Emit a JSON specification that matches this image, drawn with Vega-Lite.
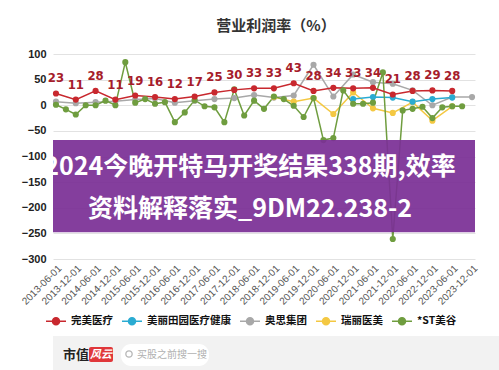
{
  "$schema": "https://vega.github.io/schema/vega-lite/v6.json",
  "padding": {"top": 19, "left": 0, "right": 0, "bottom": 0},
  "background": "white",
  "title": {"text": "营业利润率（%）", "fontSize": 15, "font": "Noto Sans CJK SC", "fontWeight": "bold", "color": "#333333", "offset": 14, "anchor": "middle"},
  "config": {"view": {"stroke": null}, "font": "Noto Sans CJK SC", "axis": {"labelOverlap": false}, "axisY": {"labelOverlap": false, "labelSeparation": 0}},
  "spacing": 8,
  "resolve": {"legend": {"color": "independent"}, "scale": {"x": "independent", "y": "independent"}},
  "datasets": {
    "main": [
      {"date": "2013-06-01", "series": "奥思集团", "value": 7},
      {"date": "2013-12-01", "series": "奥思集团", "value": 4},
      {"date": "2014-06-01", "series": "奥思集团", "value": 6},
      {"date": "2014-12-01", "series": "奥思集团", "value": 8},
      {"date": "2015-06-01", "series": "奥思集团", "value": 11},
      {"date": "2015-12-01", "series": "奥思集团", "value": 13},
      {"date": "2016-06-01", "series": "奥思集团", "value": 5},
      {"date": "2016-12-01", "series": "奥思集团", "value": 9},
      {"date": "2017-06-01", "series": "奥思集团", "value": 12},
      {"date": "2017-12-01", "series": "奥思集团", "value": 14},
      {"date": "2018-06-01", "series": "奥思集团", "value": 20},
      {"date": "2018-12-01", "series": "奥思集团", "value": 15},
      {"date": "2019-06-01", "series": "奥思集团", "value": 19},
      {"date": "2019-12-01", "series": "奥思集团", "value": 79},
      {"date": "2020-06-01", "series": "奥思集团", "value": 17},
      {"date": "2020-12-01", "series": "奥思集团", "value": 60},
      {"date": "2021-06-01", "series": "奥思集团", "value": 45},
      {"date": "2021-12-01", "series": "奥思集团", "value": 42},
      {"date": "2022-06-01", "series": "奥思集团", "value": 29},
      {"date": "2022-12-01", "series": "奥思集团", "value": 0},
      {"date": "2023-06-01", "series": "奥思集团", "value": 16},
      {"date": "2023-12-01", "series": "奥思集团", "value": 16},
      {"date": "2018-12-01", "series": "瑞丽医美", "value": 16},
      {"date": "2019-06-01", "series": "瑞丽医美", "value": 7},
      {"date": "2019-12-01", "series": "瑞丽医美", "value": 14},
      {"date": "2020-06-01", "series": "瑞丽医美", "value": -17},
      {"date": "2020-12-01", "series": "瑞丽医美", "value": 25},
      {"date": "2021-06-01", "series": "瑞丽医美", "value": -6},
      {"date": "2021-12-01", "series": "瑞丽医美", "value": -15},
      {"date": "2022-06-01", "series": "瑞丽医美", "value": 6},
      {"date": "2022-12-01", "series": "瑞丽医美", "value": -30},
      {"date": "2023-06-01", "series": "瑞丽医美", "value": -2},
      {"date": "2020-12-01", "series": "美丽田园医疗健康", "value": 12},
      {"date": "2021-06-01", "series": "美丽田园医疗健康", "value": 16},
      {"date": "2021-12-01", "series": "美丽田园医疗健康", "value": 15},
      {"date": "2022-06-01", "series": "美丽田园医疗健康", "value": 7},
      {"date": "2022-12-01", "series": "美丽田园医疗健康", "value": 12},
      {"date": "2023-06-01", "series": "美丽田园医疗健康", "value": 15},
      {"date": "2013-06-01", "series": "*ST美谷", "value": 1},
      {"date": "2013-09-01", "series": "*ST美谷", "value": -8},
      {"date": "2013-12-01", "series": "*ST美谷", "value": -18},
      {"date": "2014-03-01", "series": "*ST美谷", "value": 0},
      {"date": "2014-06-01", "series": "*ST美谷", "value": 0},
      {"date": "2014-09-01", "series": "*ST美谷", "value": 9},
      {"date": "2014-12-01", "series": "*ST美谷", "value": 0},
      {"date": "2015-03-01", "series": "*ST美谷", "value": 84},
      {"date": "2015-06-01", "series": "*ST美谷", "value": 5},
      {"date": "2015-09-01", "series": "*ST美谷", "value": 12},
      {"date": "2015-12-01", "series": "*ST美谷", "value": 3},
      {"date": "2016-03-01", "series": "*ST美谷", "value": 6},
      {"date": "2016-06-01", "series": "*ST美谷", "value": -33},
      {"date": "2016-09-01", "series": "*ST美谷", "value": -14},
      {"date": "2016-12-01", "series": "*ST美谷", "value": 10},
      {"date": "2017-03-01", "series": "*ST美谷", "value": -2},
      {"date": "2017-06-01", "series": "*ST美谷", "value": -4},
      {"date": "2017-09-01", "series": "*ST美谷", "value": -33},
      {"date": "2017-12-01", "series": "*ST美谷", "value": 31},
      {"date": "2018-03-01", "series": "*ST美谷", "value": -20},
      {"date": "2018-06-01", "series": "*ST美谷", "value": 9},
      {"date": "2018-09-01", "series": "*ST美谷", "value": -7},
      {"date": "2018-12-01", "series": "*ST美谷", "value": 17},
      {"date": "2019-03-01", "series": "*ST美谷", "value": 12},
      {"date": "2019-06-01", "series": "*ST美谷", "value": -1},
      {"date": "2019-09-01", "series": "*ST美谷", "value": -23},
      {"date": "2019-12-01", "series": "*ST美谷", "value": 14},
      {"date": "2020-03-01", "series": "*ST美谷", "value": -68},
      {"date": "2020-06-01", "series": "*ST美谷", "value": -64},
      {"date": "2020-09-01", "series": "*ST美谷", "value": 29},
      {"date": "2020-12-01", "series": "*ST美谷", "value": 3},
      {"date": "2021-03-01", "series": "*ST美谷", "value": 3},
      {"date": "2021-06-01", "series": "*ST美谷", "value": 5},
      {"date": "2021-09-01", "series": "*ST美谷", "value": 64},
      {"date": "2021-12-01", "series": "*ST美谷", "value": -261},
      {"date": "2022-03-01", "series": "*ST美谷", "value": -10},
      {"date": "2022-06-01", "series": "*ST美谷", "value": -7},
      {"date": "2022-09-01", "series": "*ST美谷", "value": -3},
      {"date": "2022-12-01", "series": "*ST美谷", "value": -25},
      {"date": "2023-03-01", "series": "*ST美谷", "value": -4},
      {"date": "2023-06-01", "series": "*ST美谷", "value": -2},
      {"date": "2023-09-01", "series": "*ST美谷", "value": -2},
      {"date": "2013-06-01", "series": "完美医疗", "value": 23},
      {"date": "2013-12-01", "series": "完美医疗", "value": 11},
      {"date": "2014-06-01", "series": "完美医疗", "value": 28},
      {"date": "2014-12-01", "series": "完美医疗", "value": 11},
      {"date": "2015-06-01", "series": "完美医疗", "value": 19},
      {"date": "2015-12-01", "series": "完美医疗", "value": 16},
      {"date": "2016-06-01", "series": "完美医疗", "value": 12},
      {"date": "2016-12-01", "series": "完美医疗", "value": 17},
      {"date": "2017-06-01", "series": "完美医疗", "value": 25},
      {"date": "2017-12-01", "series": "完美医疗", "value": 30},
      {"date": "2018-06-01", "series": "完美医疗", "value": 33},
      {"date": "2018-12-01", "series": "完美医疗", "value": 33},
      {"date": "2019-06-01", "series": "完美医疗", "value": 43},
      {"date": "2019-12-01", "series": "完美医疗", "value": 28},
      {"date": "2020-06-01", "series": "完美医疗", "value": 34},
      {"date": "2020-12-01", "series": "完美医疗", "value": 33},
      {"date": "2021-06-01", "series": "完美医疗", "value": 34},
      {"date": "2021-12-01", "series": "完美医疗", "value": 21},
      {"date": "2022-06-01", "series": "完美医疗", "value": 28},
      {"date": "2022-12-01", "series": "完美医疗", "value": 29},
      {"date": "2023-06-01", "series": "完美医疗", "value": 28}
    ]
  },
  "vconcat": [
    {
      "width": 422,
      "height": 205,
      "layer": [
        {
          "data": {"name": "main"},
          "mark": {"type": "line", "strokeWidth": 1.5, "point": {"filled": true, "size": 38, "opacity": 1}},
          "encoding": {
            "x": {"field": "date", "type": "ordinal",
              "scale": {"type": "point", "padding": 0.3, "domain": ["2013-06-01","2013-09-01","2013-12-01","2014-03-01","2014-06-01","2014-09-01","2014-12-01","2015-03-01","2015-06-01","2015-09-01","2015-12-01","2016-03-01","2016-06-01","2016-09-01","2016-12-01","2017-03-01","2017-06-01","2017-09-01","2017-12-01","2018-03-01","2018-06-01","2018-09-01","2018-12-01","2019-03-01","2019-06-01","2019-09-01","2019-12-01","2020-03-01","2020-06-01","2020-09-01","2020-12-01","2021-03-01","2021-06-01","2021-09-01","2021-12-01","2022-03-01","2022-06-01","2022-09-01","2022-12-01","2023-03-01","2023-06-01","2023-09-01","2023-12-01"]},
              "axis": {"values": ["2013-06-01","2013-12-01","2014-06-01","2014-12-01","2015-06-01","2015-12-01","2016-06-01","2016-12-01","2017-06-01","2017-12-01","2018-06-01","2018-12-01","2019-06-01","2019-12-01","2020-06-01","2020-12-01","2021-06-01","2021-12-01","2022-06-01","2022-12-01","2023-06-01","2023-12-01"],
                "labelAngle": -45, "labelFontSize": 10, "labelFont": "Liberation Sans", "labelColor": "#555555", "ticks": false, "domain": false, "grid": false, "title": null, "labelPadding": 4}},
            "y": {"field": "value", "type": "quantitative",
              "scale": {"domain": [-300, 100], "nice": false, "zero": false},
              "axis": {"values": [100, 50, 0, -50, -100, -150, -200, -250, -300], "labelOverlap": false, "grid": true, "gridColor": "#e2e2e2", "domain": false, "ticks": false, "labelFontSize": 11, "labelFont": "Liberation Sans", "labelFontWeight": "bold", "labelColor": "#222222", "labelPadding": 7, "title": null, "minExtent": 53}},
            "color": {"field": "series", "type": "nominal",
              "scale": {"domain": ["完美医疗", "美丽田园医疗健康", "奥思集团", "瑞丽医美", "*ST美谷"], "range": ["#c8282e", "#2aabd2", "#a8a8a8", "#f4c842", "#6f9d3f"]},
              "legend": {"title": null, "orient": "none", "legendX": -8, "legendY": 256, "direction": "horizontal", "symbolType": "M-1,0L1,0M0.35,0A0.35,0.35,0,1,1,-0.35,0A0.35,0.35,0,1,1,0.35,0Z", "symbolSize": 400, "symbolStrokeWidth": 1.5, "labelFontSize": 10.5, "labelFontWeight": "bold", "labelColor": "#111111", "labelFont": "Noto Sans CJK SC", "columnPadding": 6, "labelOffset": 4, "labelLimit": 200,
                "encode": {"symbols": {"update": {"fill": {"field": "value", "scale": "color"}, "fillOpacity": {"value": 1}, "opacity": {"value": 1}}}}}
            }
          }
        },
        {
          "data": {"values": [{}]},
          "mark": {"type": "rect", "fill": "#7b2f96", "opacity": 0.93},
          "encoding": {
            "y": {"datum": -68, "type": "quantitative", "axis": {"values": [100, 50, 0, -50, -100, -150, -200, -250, -300], "labelOverlap": false, "grid": true, "gridColor": "#e2e2e2", "domain": false, "ticks": false, "labelFontSize": 11, "labelFont": "Liberation Sans", "labelFontWeight": "bold", "labelColor": "#222222", "labelPadding": 7, "title": null, "minExtent": 53}},
            "y2": {"datum": -248}}
        },
        {
          "data": {"values": [{}]},
          "mark": {"type": "text", "text": "2024今晚开特马开奖结果338期,效率", "color": "white", "fontSize": 25, "fontWeight": "bold", "font": "Noto Sans CJK SC", "baseline": "middle", "align": "center", "dx": -14},
          "encoding": {"y": {"datum": -121, "type": "quantitative", "axis": {"values": [100, 50, 0, -50, -100, -150, -200, -250, -300], "labelOverlap": false, "grid": true, "gridColor": "#e2e2e2", "domain": false, "ticks": false, "labelFontSize": 11, "labelFont": "Liberation Sans", "labelFontWeight": "bold", "labelColor": "#222222", "labelPadding": 7, "title": null, "minExtent": 53}}}
        },
        {
          "data": {"values": [{}]},
          "mark": {"type": "text", "text": "资料解释落实_9DM22.238-2", "color": "white", "fontSize": 25, "fontWeight": "bold", "font": "Noto Sans CJK SC", "baseline": "middle", "align": "center", "dx": -14},
          "encoding": {"y": {"datum": -203, "type": "quantitative", "axis": {"values": [100, 50, 0, -50, -100, -150, -200, -250, -300], "labelOverlap": false, "grid": true, "gridColor": "#e2e2e2", "domain": false, "ticks": false, "labelFontSize": 11, "labelFont": "Liberation Sans", "labelFontWeight": "bold", "labelColor": "#222222", "labelPadding": 7, "title": null, "minExtent": 53}}}
        },
        {
          "data": {"name": "main"},
          "transform": [{"filter": "datum.series === '完美医疗'"}],
          "mark": {"type": "text", "dy": -15, "fontSize": 13, "fontWeight": "bold", "font": "Liberation Sans Narrow, DejaVu Sans Condensed, sans-serif", "color": "#a61c2b", "baseline": "middle"},
          "encoding": {
            "x": {"field": "date", "type": "ordinal"},
            "y": {"field": "value", "type": "quantitative", "axis": {"values": [100, 50, 0, -50, -100, -150, -200, -250, -300], "labelOverlap": false, "grid": true, "gridColor": "#e2e2e2", "domain": false, "ticks": false, "labelFontSize": 11, "labelFont": "Liberation Sans", "labelFontWeight": "bold", "labelColor": "#222222", "labelPadding": 7, "title": null, "minExtent": 53}},
            "text": {"field": "value", "type": "quantitative"}
          }
        }
      ]
    },
    {
      "width": 499,
      "height": 34,
      "view": {"fill": "#f2f2f2", "stroke": null},
      "data": {"values": [{}]},
      "encoding": {
        "x": {"datum": 0, "type": "quantitative", "scale": {"domain": [0, 499]}, "axis": null},
        "y": {"datum": 0, "type": "quantitative", "scale": {"domain": [0, 34]}, "axis": null}
      },
      "layer": [
        {"mark": {"type": "text", "text": "市值", "fontSize": 13, "fontWeight": "bold", "color": "#222222", "align": "left", "baseline": "middle"},
          "encoding": {"x": {"datum": 10}, "y": {"datum": 15}}},
        {"mark": {"type": "rect", "fill": "#e0373a", "cornerRadius": 2},
          "encoding": {"x": {"datum": 36}, "x2": {"datum": 60}, "y": {"datum": 23}, "y2": {"datum": 8}}},
        {"mark": {"type": "text", "text": "风云", "fontSize": 11, "fontWeight": "bold", "fontStyle": "italic", "color": "white", "align": "center", "baseline": "middle"},
          "encoding": {"x": {"datum": 48}, "y": {"datum": 15}}},
        {"mark": {"type": "rect", "fill": "white", "cornerRadius": 10},
          "encoding": {"x": {"datum": 68}, "x2": {"datum": 156}, "y": {"datum": 26}, "y2": {"datum": 4}}},
        {"mark": {"type": "point", "shape": "circle", "stroke": "#999999", "strokeWidth": 1.3, "size": 40, "filled": false},
          "encoding": {"x": {"datum": 76}, "y": {"datum": 16}}},
        {"mark": {"type": "text", "text": "买股之前搜一搜", "fontSize": 10, "color": "#b0b0b0", "align": "left", "baseline": "middle"},
          "encoding": {"x": {"datum": 84}, "y": {"datum": 15}}}
      ]
    }
  ]
}
